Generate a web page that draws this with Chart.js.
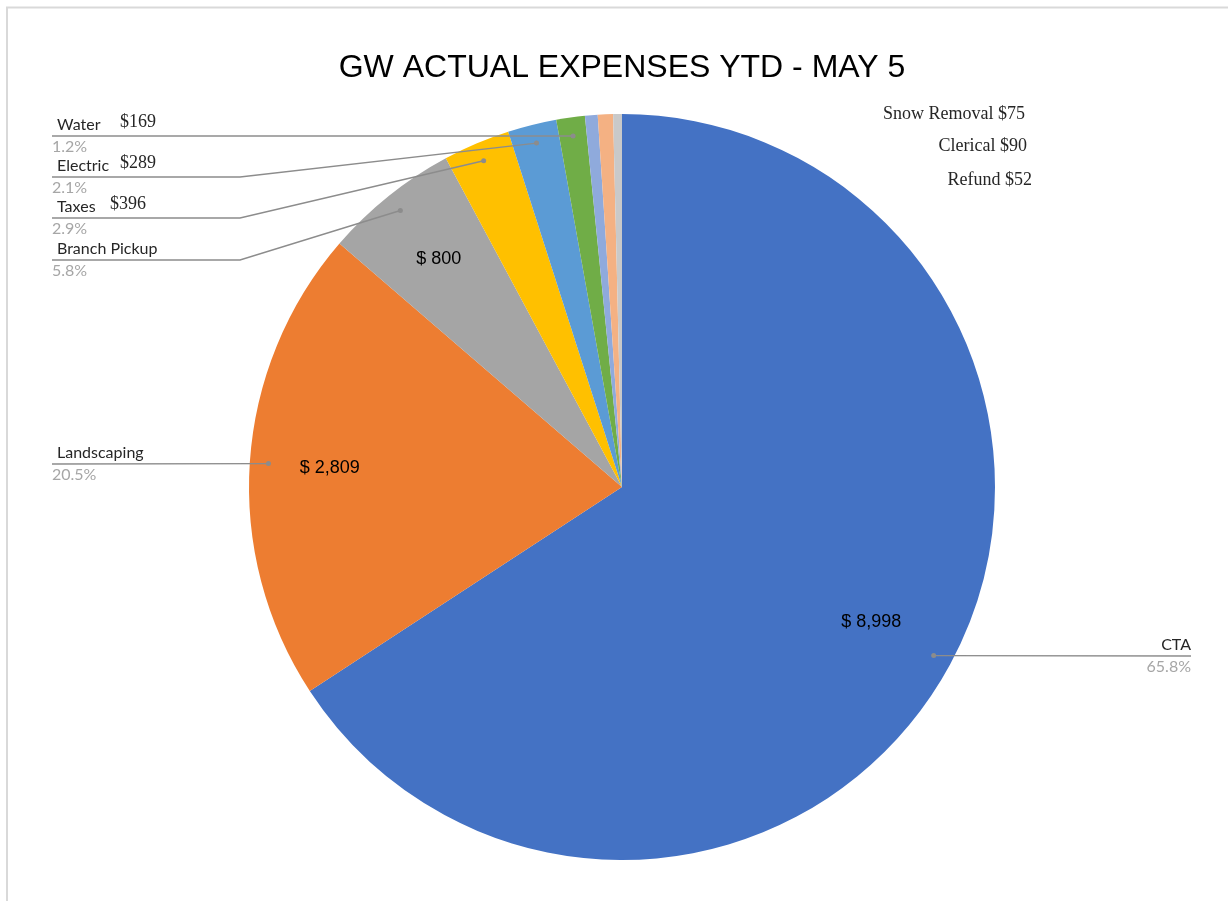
<!DOCTYPE html>
<html>
<head>
<meta charset="utf-8">
<title>GW Actual Expenses YTD</title>
<script src="https://cdn.jsdelivr.net/npm/chart.js@4"></script>
<style>
  html, body { margin: 0; padding: 0; background: #fff; }
  #wrap { width: 1228px; height: 901px; }
</style>
</head>
<body>
<div id="wrap"><canvas id="graph" width="1228" height="901"></canvas></div>
<script>
// expense categories, in the order the slices run clockwise from 12 o'clock
var categories = ["CTA", "Landscaping", "Branch Pickup", "Taxes", "Electric", "Water", "Snow Removal", "Clerical", "Refund"];
var amounts = [8998, 2809, 800, 396, 289, 169, 75, 90, 52];
var sliceColors = ["#4472C4", "#ED7D31", "#A5A5A5", "#FFC000", "#5B9BD5", "#70AD47", "#8FAADC", "#F4B183", "#C9C9C9"];

// slices that get a "$ n" label inside the pie
var insideLabels = ["CTA", "Landscaping", "Branch Pickup"];
// small slices listed as plain text at the top right
var cornerNotes = ["Snow Removal", "Clerical", "Refund"];

function money(v) {
    return v.toLocaleString("en-US");
}

function pct(v) {
    var total = amounts.reduce(function (a, b) { return a + b; }, 0);
    return (v / total * 100).toFixed(1) + "%";
}

// where each callout label sits (x, underline y), the elbow x, and the side
var callouts = {
    "Water":         { x: 52, y: 136, elbow: null, side: "left", showValue: true, valueX: 120 },
    "Electric":      { x: 52, y: 177, elbow: 240, side: "left", showValue: true, valueX: 120 },
    "Taxes":         { x: 52, y: 218, elbow: 240, side: "left", showValue: true, valueX: 110 },
    "Branch Pickup": { x: 52, y: 260, elbow: 240, side: "left", showValue: false },
    "Landscaping":   { x: 52, y: 464, elbow: null, side: "left", showValue: false },
    "CTA":           { x: 1191, y: 656, elbow: null, side: "right", showValue: false }
};

var pieLabels = {
    id: "pieLabels",
    beforeDraw: function (chart) {
        var c = chart.ctx;
        c.save();
        c.fillStyle = "#ffffff";
        c.fillRect(0, 0, chart.width, chart.height);
        // frame of the pasted sheet
        c.strokeStyle = "#d9d9d9";
        c.lineWidth = 2;
        c.beginPath();
        c.moveTo(7, chart.height);
        c.lineTo(7, 7.5);
        c.lineTo(chart.width, 7.5);
        c.stroke();
        c.restore();
    },
    afterDatasetsDraw: function (chart) {
        var c = chart.ctx;
        var meta = chart.getDatasetMeta(0);
        c.save();

        meta.data.forEach(function (arc, i) {
            var name = categories[i];
            var mid = (arc.startAngle + arc.endAngle) / 2;

            if (insideLabels.indexOf(name) >= 0) {
                var r = arc.outerRadius * (name === "CTA" ? 0.76 : 0.785);
                c.font = "18px 'Liberation Sans', Arial, sans-serif";
                c.fillStyle = "#000000";
                c.textAlign = "center";
                c.textBaseline = "middle";
                c.fillText("$ " + money(amounts[i]), arc.x + Math.cos(mid) * r, arc.y + Math.sin(mid) * r);
            }

            var co = callouts[name];
            if (!co) return;
            var dr = arc.outerRadius * 0.95;
            var dx = arc.x + Math.cos(mid) * dr;
            var dy = arc.y + Math.sin(mid) * dr;

            c.strokeStyle = "#8c8c8c";
            c.lineWidth = 1.4;
            c.beginPath();
            c.moveTo(co.x, co.y);
            if (co.elbow !== null) {
                c.lineTo(co.elbow, co.y);
            }
            c.lineTo(dx, dy);
            c.stroke();
            c.fillStyle = "#8c8c8c";
            c.beginPath();
            c.arc(dx, dy, 2.5, 0, Math.PI * 2);
            c.fill();

            c.textBaseline = "alphabetic";
            c.font = "16px Lato, 'Noto Sans', sans-serif";
            if (co.side === "left") {
                c.textAlign = "left";
                c.fillStyle = "#262626";
                c.fillText(name, co.x + 5, co.y - 6);
                c.fillStyle = "#a6a6a6";
                c.fillText(pct(amounts[i]), co.x, co.y + 16);
                if (co.showValue) {
                    c.fillStyle = "#262626";
                    c.font = "18px 'Liberation Serif', 'Times New Roman', serif";
                    c.fillText("$" + amounts[i], co.valueX, co.y - 9);
                }
            } else {
                c.textAlign = "right";
                c.fillStyle = "#262626";
                c.fillText(name, co.x, co.y - 6);
                c.fillStyle = "#a6a6a6";
                c.fillText(pct(amounts[i]), co.x, co.y + 16);
            }
        });

        // the three tiny slices are noted as text at the top right
        var noteRight = [1025, 1027, 1032];
        var noteY = [119, 151, 185];
        c.font = "18px 'Liberation Serif', 'Times New Roman', serif";
        c.fillStyle = "#262626";
        c.textAlign = "right";
        c.textBaseline = "alphabetic";
        cornerNotes.forEach(function (name, k) {
            var idx = categories.indexOf(name);
            c.fillText(name + " $" + amounts[idx], noteRight[k], noteY[k]);
        });

        c.restore();
    }
};

var ctx = document.getElementById("graph").getContext("2d");
var pieChart = new Chart(ctx, {
    type: "pie",
    data: {
        labels: categories,
        datasets: [{
            data: amounts,
            backgroundColor: sliceColors,
            borderWidth: 0
        }]
    },
    options: {
        responsive: false,
        animation: false,
        devicePixelRatio: 1,
        layout: {
            padding: { left: 16, right: 0, top: 0, bottom: 41 }
        },
        plugins: {
            legend: { display: false },
            tooltip: { enabled: false },
            title: {
                display: true,
                text: "GW ACTUAL EXPENSES YTD - MAY 5",
                color: "#000000",
                font: { family: "'Liberation Sans', Arial, sans-serif", size: 32, weight: "normal", lineHeight: 1.2 },
                padding: { top: 49, bottom: 26.6 }
            }
        }
    },
    plugins: [pieLabels]
});
</script>
</body>
</html>
